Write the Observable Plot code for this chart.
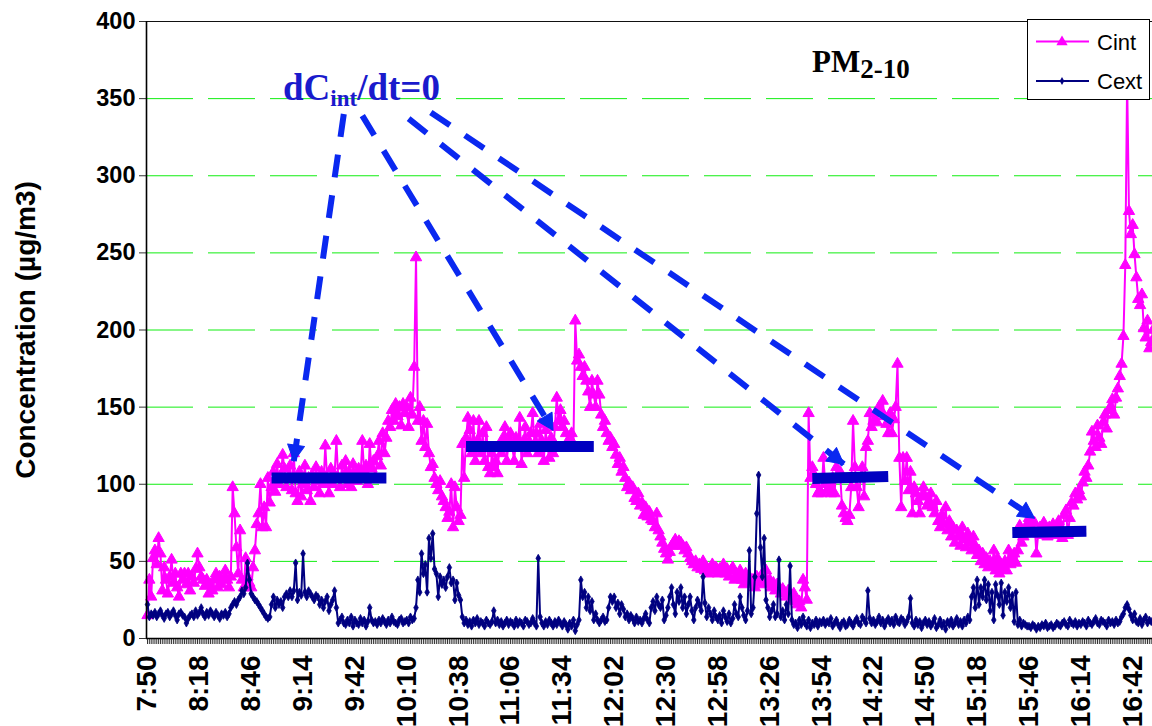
<!DOCTYPE html>
<html>
<head>
<meta charset="utf-8">
<script src="https://cdn.jsdelivr.net/npm/d3@7"></script>
<script src="https://cdn.jsdelivr.net/npm/@observablehq/plot@0.6"></script>
<style>
  html, body { margin: 0; padding: 0; background: #ffffff; }
  #wrap { position: relative; width: 1152px; height: 726px; overflow: hidden; background: #fff; }
  #wrap > svg.overlay { position: absolute; left: 0; top: 0; pointer-events: none; }
</style>
</head>
<body>
<div id="wrap"></div>
<script>
// ---------------- data ----------------
const startClock = "7:50";           // first sample, one sample per minute
const xTickLabels = ["7:50","8:18","8:46","9:14","9:42","10:10","10:38","11:06","11:34","12:02",
                     "12:30","12:58","13:26","13:54","14:22","14:50","15:18","15:46","16:14","16:42"];
const yTicks = [0, 50, 100, 150, 200, 250, 300, 350, 400];
const gridValues = [50, 100, 150, 200, 250, 300, 350];

// Cint (µg/m3), indoor, one value per minute from 7:50
const cint = [
  15,38,27,52,57,48,65,55,31,46,38,29,40,51,36,42,33,27,42,38,42,35,42,31,40,36,45,55,
  46,40,38,34,38,29,35,31,38,42,33,40,35,38,44,38,33,40,98,81,59,42,70,38,33,52,40,36,
  33,46,57,74,81,100,72,85,72,104,88,98,108,95,113,100,106,119,110,98,104,112,96,120,94,89,108,92,
  100,112,96,104,89,106,98,111,102,94,108,100,125,104,94,110,100,106,128,104,98,112,104,115,100,108,98,113,
  106,102,110,104,128,108,112,100,126,110,115,104,118,128,112,133,120,130,141,137,148,141,152,144,150,138,152,146,
  150,137,156,145,176,247,141,150,128,141,124,139,120,111,113,104,100,96,102,92,89,85,78,82,100,72,98,85,
  76,80,126,104,130,143,135,120,141,115,128,141,120,133,115,137,111,107,120,111,115,107,124,120,130,137,115,128,
  133,124,115,130,124,143,113,128,137,120,128,133,146,126,133,120,139,128,115,135,124,117,130,120,137,156,141,148,
  137,141,133,128,124,133,126,206,180,184,176,170,176,167,160,150,167,158,150,167,158,145,137,141,133,128,130,124,
  126,119,113,117,108,111,104,98,101,96,98,91,89,94,86,88,80,85,79,82,77,76,72,81,70,66,62,58,
  55,51,56,60,62,64,60,63,62,60,57,59,55,52,50,48,50,46,48,45,50,44,46,42,45,48,44,46,
  42,45,44,48,42,45,40,44,46,38,42,40,44,38,35,42,38,40,36,38,33,40,36,38,42,35,44,36,
  38,33,36,31,35,33,29,32,30,27,31,28,25,29,24,22,24,20,38,33,25,146,104,111,106,100,94,96,
  94,117,100,96,98,94,104,94,111,104,108,86,81,78,76,80,98,141,111,98,85,104,111,92,124,128,146,137,
  141,146,140,150,146,154,144,139,133,146,133,142,150,178,117,85,117,102,117,96,108,81,98,94,89,81,92,98,
  92,86,89,94,85,81,89,76,72,80,74,85,70,76,66,72,62,70,66,60,72,64,59,68,62,57,66,60,
  54,57,50,55,48,52,46,50,47,57,44,52,42,48,45,50,44,57,48,52,55,49,57,73,62,66,70,74,
  78,72,68,75,55,68,72,67,75,70,66,72,69,74,70,67,76,72,65,80,83,67,78,88,86,94,90,96,
  92,101,108,104,112,121,134,128,124,138,130,126,140,145,136,148,150,155,145,156,162,170,178,196,242,362,277,262,
  268,249,234,220,216,223,201,195,206,188,192,200
];

// Cext (µg/m3), outdoor, one value per minute from 7:50
const cext = [
  22,14,16,15,17,14,16,18,15,13,16,17,14,16,18,15,12,16,17,15,14,10,13,15,16,14,18,15,
  17,20,16,14,17,15,18,16,14,17,15,13,16,15,17,14,16,20,22,24,22,25,27,31,29,33,49,38,
  29,27,25,24,22,20,18,16,14,13,14,22,27,20,25,22,24,20,27,29,27,31,27,31,49,25,30,28,
  55,30,27,31,29,27,25,28,27,22,25,20,24,27,18,22,25,31,20,10,12,14,10,9,12,10,14,8,
  12,10,9,13,10,12,8,11,20,12,10,11,9,12,10,13,11,9,12,10,14,11,10,9,12,13,10,11,
  12,10,14,12,13,20,38,30,55,42,48,30,65,52,68,45,42,27,40,35,38,33,40,46,36,38,25,36,
  28,25,14,10,12,9,11,8,12,10,13,9,11,10,8,12,10,9,11,18,10,12,9,11,8,10,12,9,
  11,10,8,12,9,11,10,8,12,11,9,10,13,10,8,52,14,10,8,11,9,12,10,8,11,9,12,10,
  8,11,9,6,10,8,12,5,9,12,38,27,30,20,27,18,24,12,16,12,10,12,14,11,12,20,27,24,
  27,20,23,16,22,19,14,16,12,15,13,10,14,11,12,10,13,16,12,10,20,24,18,27,22,20,25,12,
  15,20,27,33,22,16,30,24,33,20,27,16,22,27,18,12,20,25,22,18,40,23,14,20,16,12,18,14,
  12,15,10,18,14,11,16,10,13,22,16,14,27,20,15,12,18,57,16,20,40,81,106,59,40,65,25,20,
  14,18,22,14,16,51,14,18,12,22,16,47,12,9,10,7,12,9,14,10,8,12,7,10,9,12,8,11,
  10,12,9,11,10,13,8,10,12,9,7,10,11,8,9,12,10,8,11,13,10,9,14,12,10,31,13,10,
  12,9,11,14,10,12,8,11,13,10,12,9,14,11,10,13,12,9,11,14,26,10,8,12,9,11,7,10,
  12,9,11,8,10,13,7,9,12,8,10,6,11,9,12,8,10,13,9,11,8,12,10,14,12,27,33,20,
  38,22,33,27,38,25,35,18,30,12,35,28,22,36,15,30,24,33,20,28,11,30,9,12,8,10,9,8,
  8,7,9,8,6,8,7,9,8,10,7,8,9,7,8,10,9,8,10,11,9,8,12,10,9,11,8,10,
  9,11,10,8,12,10,9,11,13,10,9,12,11,10,8,12,10,11,9,12,10,11,14,16,20,22,19,15,
  12,16,11,10,13,9,12,14,10,12,11,10
];

// "dCint/dt = 0" plateaus (thick bars): start/end clock time and level
const plateauStart = ["8:57", "10:42", "13:49", "15:37"];
const plateauEnd   = ["9:59", "11:51", "14:30", "16:17"];
const plateauFrom  = [104, 124.5, 103.7, 68.7];
const plateauTo    = [104, 124.5, 105, 69.5];

// dashed arrows from the annotation text to each plateau
const arrowFromTime  = ["9:36", "9:46", "10:11", "10:23"];
const arrowFromValue = [340, 339, 337, 341];
const arrowToTime    = ["9:09", "11:29", "14:06", "15:49"];
const arrowToValue   = [115, 135, 113, 78];

// ---------------- build ----------------
const toMin = s => { const [h, m] = s.split(":").map(Number); return h * 60 + m; };
const t0 = toMin(startClock);
const xTicks = xTickLabels.map(toMin);

const rowsInt = cint.map((v, i) => ({t: t0 + i, v}));
const rowsExt = cext.map((v, i) => ({t: t0 + i, v}));
const everyMinute = d3.range(t0, t0 + 544);

const xDomain = [t0 - 0.54, t0 + 542.7];
const xRange = [146, 1152];
const yDomain = [0, 400];
const yRange = [638, 21];

const xs = Plot.scale({x: {type: "linear", domain: xDomain, range: xRange}});
const ys = Plot.scale({y: {type: "linear", domain: yDomain, range: yRange}});

const bars = plateauStart.map((s, i) => ({
  x1: toMin(s), x2: toMin(plateauEnd[i]), y1: plateauFrom[i], y2: plateauTo[i]
}));
const arrows = arrowFromTime.map((s, i) => {
  const x1 = toMin(s), y1 = arrowFromValue[i], x2 = toMin(arrowToTime[i]), y2 = arrowToValue[i];
  const dx = xs.apply(x2) - xs.apply(x1), dy = ys.apply(y2) - ys.apply(y1);
  return {x1, y1, x2, y2, angle: Math.atan2(dx, -dy) * 180 / Math.PI};
});

const headShape = {
  draw(ctx, l, r) { ctx.moveTo(0, -l); ctx.lineTo(r, 0); ctx.lineTo(-r, 0); ctx.closePath(); }
};

const MAGENTA = "#ff00ff", NAVY = "#000080", DASHBLUE = "#0a28f0", BARBLUE = "#0000c0";
const TRI_R = 4.2, DIA_R = 2.4;

const chart = Plot.plot({
  width: 1152,
  height: 726,
  marginLeft: 146,
  marginRight: 0,
  marginTop: 21,
  marginBottom: 88,
  style: {fontFamily: "'Liberation Sans', Arial, sans-serif", background: "#ffffff", color: "#000"},
  x: {type: "linear", domain: xDomain, range: xRange},
  y: {type: "linear", domain: yDomain, range: yRange},
  marks: [
    Plot.ruleY(gridValues, {stroke: "#11ee11", strokeWidth: 1, strokeDasharray: "47,15"}),
    Plot.line(rowsInt, {x: "t", y: "v", stroke: MAGENTA, strokeWidth: 2}),
    Plot.dot(rowsInt, {x: "t", y: "v", symbol: "triangle", r: TRI_R, fill: MAGENTA, stroke: MAGENTA, strokeWidth: 1}),
    Plot.line(rowsExt, {x: "t", y: "v", stroke: NAVY, strokeWidth: 2}),
    Plot.dot(rowsExt, {x: "t", y: "v", symbol: "diamond", r: DIA_R, fill: NAVY, stroke: NAVY, strokeWidth: 0.8}),
    Plot.link(bars, {x1: "x1", y1: "y1", x2: "x2", y2: "y2", stroke: BARBLUE, strokeWidth: 11, strokeLinecap: "butt"}),
    Plot.link(arrows, {x1: "x1", y1: "y1", x2: "x2", y2: "y2", stroke: DASHBLUE, strokeWidth: 6, strokeDasharray: "23,18", strokeLinecap: "butt"}),
    Plot.vector(arrows, {x: "x2", y: "y2", rotate: "angle", length: 16, r: 8.5, anchor: "end", shape: headShape, fill: DASHBLUE, stroke: DASHBLUE, strokeWidth: 1}),
    Plot.ruleY([400], {stroke: "#111", strokeWidth: 1}),
    Plot.axisY({ticks: yTicks, tickSize: 7, tickPadding: 4, tickFormat: d => String(d), fontSize: 23.5, fontWeight: "bold", label: null, stroke: "#333"}),
    Plot.axisX({ticks: everyMinute, tickSize: 6, tickFormat: () => "", label: null, stroke: "#000", strokeWidth: 0.8}),
    Plot.axisX({ticks: xTicks, tickSize: 0, tickPadding: 17, tickRotate: -90, tickFormat: t => xTickLabels[xTicks.indexOf(t)], fontSize: 28, fontWeight: "bold", label: null}),
    Plot.ruleX([xDomain[0]], {stroke: "#000", strokeWidth: 1.6}),
    Plot.ruleY([0], {stroke: "#000", strokeWidth: 1.6}),
    Plot.text(["Concentration (µg/m3)"], {frameAnchor: "left", textAnchor: "middle", lineAnchor: "middle", rotate: -90, dx: -120, fontSize: 28, fontWeight: "bold", fill: "#000"})
  ]
});

const wrap = document.getElementById("wrap");
wrap.appendChild(chart);

// overlay: title, annotation text, legend
const ov = d3.select(wrap).append("svg").attr("class", "overlay").attr("width", 1152).attr("height", 726);

const pm = ov.append("text").attr("x", 812).attr("y", 72)
  .attr("font-family", "'Liberation Serif', 'Times New Roman', serif").attr("font-weight", "bold")
  .attr("font-size", 31).attr("fill", "#000");
pm.append("tspan").text("PM");
pm.append("tspan").attr("font-size", 27).attr("dy", 6).text("2-10");

const dc = ov.append("text").attr("x", 283).attr("y", 100)
  .attr("font-family", "'Liberation Serif', 'Times New Roman', serif").attr("font-weight", "bold")
  .attr("font-size", 37).attr("fill", "#1a1acc");
dc.append("tspan").text("dC");
dc.append("tspan").attr("font-size", 23).attr("dy", 6).text("int");
dc.append("tspan").attr("dy", -6).text("/dt=0");

const lg = ov.append("g");
lg.append("rect").attr("x", 1027.5).attr("y", 19.5).attr("width", 122).attr("height", 80)
  .attr("fill", "#fff").attr("stroke", "#000").attr("stroke-width", 1);
lg.append("line").attr("x1", 1036).attr("x2", 1089).attr("y1", 41.5).attr("y2", 41.5)
  .attr("stroke", MAGENTA).attr("stroke-width", 2);
lg.append("path").attr("d", d3.symbol(d3.symbolTriangle, Math.PI * TRI_R * TRI_R)())
  .attr("transform", "translate(1062,42)").attr("fill", MAGENTA);
lg.append("text").attr("x", 1097).attr("y", 49.5).attr("font-family", "'Liberation Sans', Arial, sans-serif")
  .attr("font-size", 22).text("Cint");
lg.append("line").attr("x1", 1036).attr("x2", 1089).attr("y1", 81).attr("y2", 81)
  .attr("stroke", NAVY).attr("stroke-width", 2);
lg.append("path").attr("d", d3.symbol(d3.symbolDiamond, Math.PI * DIA_R * DIA_R)())
  .attr("transform", "translate(1062,81)").attr("fill", NAVY);
lg.append("text").attr("x", 1097).attr("y", 89).attr("font-family", "'Liberation Sans', Arial, sans-serif")
  .attr("font-size", 22).text("Cext");
</script>
</body>
</html>
